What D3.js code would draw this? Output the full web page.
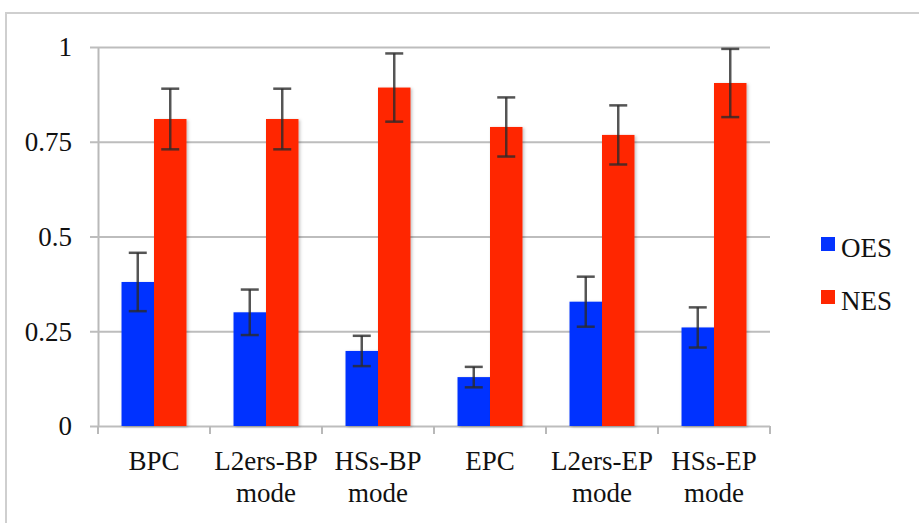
<!DOCTYPE html>
<html>
<head>
<meta charset="utf-8">
<script src="https://cdn.jsdelivr.net/npm/d3@7"></script>
<style>
  body { margin: 0; background: #fff; }
  svg { display: block; }
</style>
</head>
<body>
<svg id="drawing_region"></svg>
<script>
const categories = [["BPC"], ["L2ers-BP", "mode"], ["HSs-BP", "mode"], ["EPC"], ["L2ers-EP", "mode"], ["HSs-EP", "mode"]];
const seriesNames = ["OES", "NES"];
const oesValues = [0.38, 0.30, 0.198, 0.129, 0.328, 0.26];
const oesErrors = [0.077, 0.06, 0.04, 0.027, 0.066, 0.053];
const nesValues = [0.81, 0.81, 0.893, 0.789, 0.768, 0.905];
const nesErrors = [0.08, 0.08, 0.09, 0.078, 0.078, 0.09];
const yTicks = [0, 0.25, 0.5, 0.75, 1];
const yTickLabels = ["0", "0.25", "0.5", "0.75", "1"];
const colors = ["#0433ff", "#ff2600"];

const config = {
    width: 919,
    height: 523,
    margin: { top: 47, right: 149, bottom: 97, left: 98 }
};

const serif = "'Liberation Serif'";
const fontSize = '27px';

const svg = d3.select('#drawing_region')
    .attr('width', config.width)
    .attr('height', config.height);

// outer frame
svg.append('rect')
    .attr('x', 6).attr('y', 13)
    .attr('width', 960).attr('height', 600)
    .attr('fill', 'none')
    .attr('stroke', '#cfcfcf')
    .attr('stroke-width', 2);

const defs = svg.append('defs');
const shadow = defs.append('filter').attr('id', 'shadow')
    .attr('x', '-20%').attr('y', '-5%').attr('width', '150%').attr('height', '115%');
shadow.append('feDropShadow')
    .attr('dx', 1.5).attr('dy', 1).attr('stdDeviation', 1.5)
    .attr('flood-color', '#000').attr('flood-opacity', 0.25);

const inner_width = config.width - config.margin.left - config.margin.right;
const inner_height = config.height - config.margin.top - config.margin.bottom;

const chart = svg.append('g')
    .attr('transform', `translate(${config.margin.left}, ${config.margin.top})`);

const xscale = d3.scaleBand()
    .domain(d3.range(categories.length))
    .range([0, inner_width])
    .paddingInner(0.42)
    .paddingOuter(0.21);

const x1scale = d3.scaleBand()
    .domain(seriesNames)
    .range([0, xscale.bandwidth()]);

const yscale = d3.scaleLinear()
    .domain([0, 1])
    .range([inner_height, 0]);

// y axis with gridlines
const yaxis = d3.axisLeft(yscale)
    .tickValues(yTicks)
    .tickSizeInner(-inner_width)
    .tickSizeOuter(0)
    .tickPadding(26)
    .tickFormat((d, i) => yTickLabels[i]);

const yaxis_group = chart.append('g').call(yaxis);
yaxis_group.select('.domain')
    .attr('stroke', '#b9b9b9').attr('stroke-width', 2);
yaxis_group.selectAll('.tick line')
    .attr('x1', -8)
    .attr('stroke', '#bdbdbd').attr('stroke-width', 2);
yaxis_group.selectAll('.tick text')
    .style('font-family', serif)
    .style('font-size', fontSize)
    .attr('fill', '#111')
    .attr('dy', '0.33em');

// x axis category ticks
const step = xscale.step();
chart.append('g')
    .selectAll('line')
    .data(d3.range(categories.length + 1))
    .enter()
    .append('line')
    .attr('x1', d => d * step).attr('x2', d => d * step)
    .attr('y1', inner_height).attr('y2', inner_height + 8)
    .attr('stroke', '#b9b9b9').attr('stroke-width', 2);

// bars
const data = categories.map((c, i) => [
    { key: 'OES', value: oesValues[i], err: oesErrors[i] },
    { key: 'NES', value: nesValues[i], err: nesErrors[i] }
]);

const groups = chart.selectAll('.group')
    .data(data)
    .enter()
    .append('g')
    .attr('class', 'group')
    .attr('transform', (d, i) => `translate(${xscale(i)}, 0)`);

groups.selectAll('rect')
    .data(d => d)
    .enter()
    .append('rect')
    .attr('x', d => x1scale(d.key))
    .attr('y', d => yscale(d.value))
    .attr('width', x1scale.bandwidth())
    .attr('height', d => inner_height - yscale(d.value))
    .attr('fill', (d, i) => colors[i])
    .attr('filter', 'url(#shadow)');

// error bars
const capHalf = 9;
const errs = groups.selectAll('.err')
    .data(d => d)
    .enter()
    .append('g')
    .attr('class', 'err')
    .attr('stroke', '#2a2a2a')
    .attr('stroke-opacity', 0.8)
    .attr('stroke-width', 2.5);

errs.append('line')
    .attr('x1', d => x1scale(d.key) + x1scale.bandwidth() / 2)
    .attr('x2', d => x1scale(d.key) + x1scale.bandwidth() / 2)
    .attr('y1', d => yscale(d.value + d.err))
    .attr('y2', d => yscale(d.value - d.err));
errs.append('line')
    .attr('x1', d => x1scale(d.key) + x1scale.bandwidth() / 2 - capHalf)
    .attr('x2', d => x1scale(d.key) + x1scale.bandwidth() / 2 + capHalf)
    .attr('y1', d => yscale(d.value + d.err))
    .attr('y2', d => yscale(d.value + d.err));
errs.append('line')
    .attr('x1', d => x1scale(d.key) + x1scale.bandwidth() / 2 - capHalf)
    .attr('x2', d => x1scale(d.key) + x1scale.bandwidth() / 2 + capHalf)
    .attr('y1', d => yscale(d.value - d.err))
    .attr('y2', d => yscale(d.value - d.err));

// category labels: one text per line
const labelLines = [];
categories.forEach((lines, i) => {
    lines.forEach((t, j) => labelLines.push({ i: i, j: j, t: t }));
});

chart.append('g')
    .selectAll('text')
    .data(labelLines)
    .enter()
    .append('text')
    .attr('x', d => xscale(d.i) + xscale.bandwidth() / 2)
    .attr('y', d => inner_height + 44 + d.j * 32)
    .attr('text-anchor', 'middle')
    .style('font-family', serif)
    .style('font-size', fontSize)
    .attr('fill', '#111')
    .text(d => d.t);

// legend
const legend = svg.append('g')
    .attr('transform', 'translate(821, 237)');

const items = legend.selectAll('g')
    .data(seriesNames)
    .enter()
    .append('g')
    .attr('transform', (d, i) => `translate(0, ${i * 53})`);

items.append('rect')
    .attr('width', 14).attr('height', 14)
    .attr('fill', (d, i) => colors[i]);

items.append('text')
    .attr('x', 20)
    .attr('y', 20)
    .style('font-family', serif)
    .style('font-size', fontSize)
    .attr('fill', '#111')
    .text(d => d);
</script>
</body>
</html>
